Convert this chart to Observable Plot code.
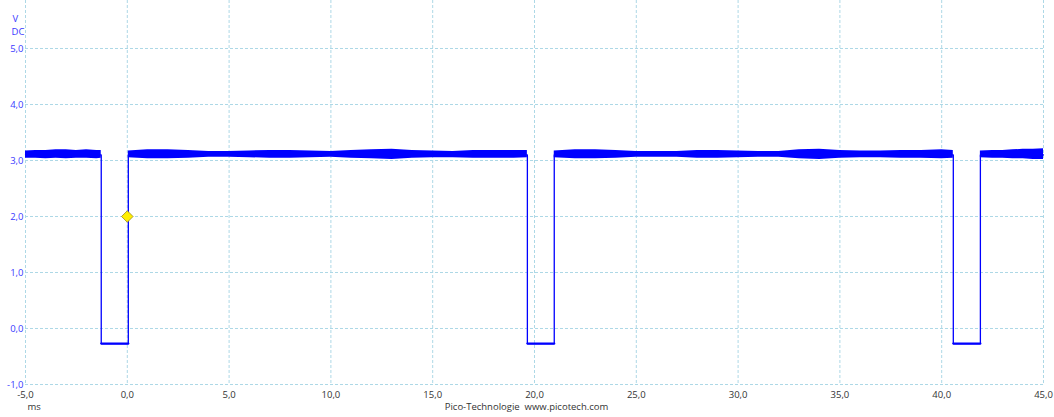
<!DOCTYPE html>
<html>
<head>
<meta charset="utf-8">
<script src="https://cdn.jsdelivr.net/npm/d3@7"></script>
<script src="https://cdn.jsdelivr.net/npm/@observablehq/plot@0.6"></script>
<style>
  html, body { margin: 0; padding: 0; background: #fff; }
  #chart svg { display: block; font-family: "Open Sans", sans-serif; }
</style>
</head>
<body>
<div id="chart"></div>
<script>
// ---- data ----
const xTicks = [-5, 0, 5, 10, 15, 20, 25, 30, 35, 40, 45];          // ms
const yTicks = [-1, 0, 1, 2, 3, 4, 5];                                // V
const highLevel = 3.1;    // V
const lowLevel = -0.27;   // V
const fallTimes = [-1.28, 19.65, 40.57];  // ms
const riseTimes = [0.05, 20.97, 41.9];    // ms
const triggerTime = 0.0;
const triggerLevel = 2.0;

// noise envelope of the high level (min / max), per segment
const segA_t   = [-5, -4.5, -4, -3.5, -3, -2.5, -2, -1.5, -1.28];
const segA_top = [3.17, 3.18, 3.18, 3.19, 3.19, 3.18, 3.19, 3.18, 3.18];
const segA_bot = [3.04, 3.04, 3.03, 3.04, 3.03, 3.04, 3.04, 3.03, 3.04];

const segB_t   = [0.05, 1, 2, 3, 4, 5, 6, 7, 8, 9, 10, 11, 12, 13, 14, 15, 16, 17, 18, 19, 19.65];
const segB_top = [3.17, 3.19, 3.19, 3.18, 3.16, 3.16, 3.17, 3.18, 3.18, 3.17, 3.16, 3.18, 3.19, 3.20, 3.18, 3.17, 3.16, 3.18, 3.18, 3.18, 3.18];
const segB_bot = [3.05, 3.03, 3.03, 3.04, 3.06, 3.06, 3.05, 3.04, 3.04, 3.05, 3.06, 3.04, 3.03, 3.02, 3.04, 3.05, 3.05, 3.04, 3.04, 3.04, 3.05];

const segC_t   = [20.97, 22, 23, 24, 25, 26, 27, 28, 29, 30, 31, 32, 33, 34, 35, 36, 37, 38, 39, 40, 40.57];
const segC_top = [3.17, 3.19, 3.19, 3.18, 3.16, 3.16, 3.16, 3.18, 3.18, 3.17, 3.16, 3.16, 3.19, 3.20, 3.18, 3.17, 3.17, 3.18, 3.18, 3.19, 3.18];
const segC_bot = [3.05, 3.03, 3.03, 3.04, 3.06, 3.06, 3.06, 3.04, 3.04, 3.05, 3.06, 3.06, 3.03, 3.02, 3.04, 3.05, 3.05, 3.04, 3.04, 3.03, 3.04];

const segD_t   = [41.9, 42.5, 43, 43.5, 44, 44.5, 45];
const segD_top = [3.17, 3.18, 3.18, 3.19, 3.20, 3.20, 3.21];
const segD_bot = [3.05, 3.04, 3.04, 3.03, 3.03, 3.02, 3.02];

// ---- build tables ----
const envelope = [];
[[segA_t, segA_top, segA_bot], [segB_t, segB_top, segB_bot],
 [segC_t, segC_top, segC_bot], [segD_t, segD_top, segD_bot]].forEach(([t, top, bot], s) => {
  t.forEach((v, i) => envelope.push({seg: s, t: v, top: top[i], bot: bot[i]}));
});

const trace = [{t: xTicks[0], v: highLevel}];
fallTimes.forEach((f, i) => {
  trace.push({t: f, v: highLevel}, {t: f, v: lowLevel}, {t: riseTimes[i], v: lowLevel}, {t: riseTimes[i], v: highLevel});
});
trace.push({t: xTicks[xTicks.length - 1], v: highLevel});

const lowSegs = [];
fallTimes.forEach((f, i) => {
  lowSegs.push({k: i, t: f, v: lowLevel}, {k: i, t: riseTimes[i], v: lowLevel});
});

const fmt = d => d3.format(".1f")(d).replace(".", ",").replace("\u2212", "-");
const gridColor = "#add8e6";
const W = 1054, H = 417;
const yTop = 5 + 48 / 56;

const chart = Plot.plot({
  width: W,
  height: H,
  marginLeft: 25,
  marginRight: 11,
  marginTop: 0,
  marginBottom: 33,
  x: {domain: [-5, 45], label: null},
  y: {domain: [-1, yTop], label: null},
  style: {fontSize: "9.5px", fontFamily: "Open Sans, sans-serif", background: "#fff", overflow: "visible"},
  marks: [
    Plot.ruleX(xTicks, {stroke: gridColor, strokeDasharray: "3,2", strokeWidth: 1}),
    Plot.ruleY(yTicks, {stroke: gridColor, strokeDasharray: "3,2", strokeWidth: 1}),
    Plot.areaY(envelope, {x: "t", y1: "bot", y2: "top", z: "seg", fill: "#0000ff", curve: "linear"}),
    Plot.line(trace, {x: "t", y: "v", stroke: "#0000ff", strokeWidth: 1.3}),
    Plot.line(lowSegs, {x: "t", y: "v", z: "k", stroke: "#0000ff", strokeWidth: 2.2}),
    Plot.dot([{t: triggerTime, v: triggerLevel}], {x: "t", y: "v", symbol: "diamond2", r: 5.2, fill: "#ffee00", stroke: "#9a8c20", strokeWidth: 0.8}),
    Plot.axisX({ticks: xTicks, tickSize: 0, tickPadding: 7, tickFormat: fmt, fill: "#333", fontSize: 9.5, label: null}),
    Plot.axisY({ticks: yTicks, tickSize: 0, tickPadding: 2, tickFormat: fmt, fill: "#3a3aff", fontSize: 9.5, label: null}),
    Plot.text(["V"], {frameAnchor: "top-left", dx: -13, dy: 15, textAnchor: "start", fill: "#3a3aff", fontSize: 9.5}),
    Plot.text(["DC"], {frameAnchor: "top-left", dx: -14, dy: 28, textAnchor: "start", fill: "#3a3aff", fontSize: 9.5}),
    Plot.text(["ms"], {frameAnchor: "bottom-left", dx: 2, dy: 25, textAnchor: "start", fill: "#333", fontSize: 9.5}),
    Plot.text(["Pico-Technologie  www.picotech.com"], {frameAnchor: "bottom", dx: -8, dy: 25, fill: "#333", fontSize: 9.5})
  ]
});
document.getElementById("chart").appendChild(chart);
</script>
</body>
</html>
